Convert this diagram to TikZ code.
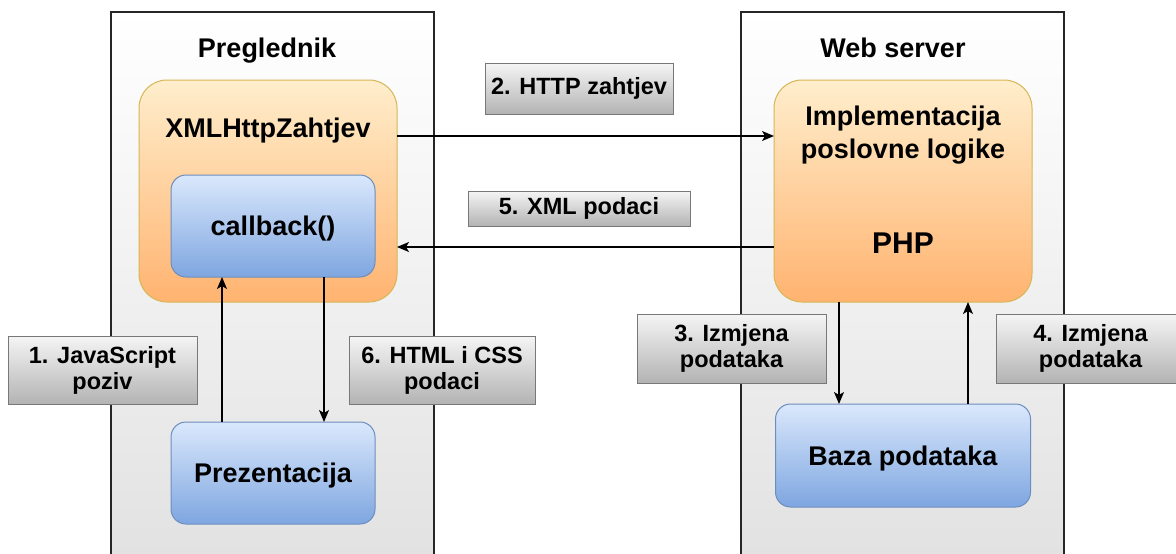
\documentclass[tikz,border=0pt]{standalone}
\usepackage{fontspec}
\setmainfont{Liberation Sans}
\usetikzlibrary{arrows.meta}
\definecolor{contbot}{RGB}{226,226,226}
\definecolor{otop}{RGB}{255,238,204}
\definecolor{obot}{RGB}{255,179,112}
\definecolor{oline}{RGB}{214,182,86}
\definecolor{btop}{RGB}{218,232,252}
\definecolor{bbot}{RGB}{126,166,224}
\definecolor{bline}{RGB}{108,142,191}
\definecolor{ltop}{RGB}{245,245,245}
\definecolor{lbot}{RGB}{179,179,179}
\definecolor{lline}{RGB}{120,120,120}
\begin{document}
\begin{tikzpicture}[x=1pt,y=-1pt,
  cont/.style={draw=black!85, line width=1.3pt, top color=white, bottom color=contbot, minimum width=323pt, minimum height=544pt, inner sep=0pt, outer sep=0pt},
  obox/.style={draw=oline, line width=1pt, rounded corners=28pt, top color=otop, bottom color=obot, inner sep=0pt, outer sep=0pt, font=\fontsize{27}{33}\selectfont\bfseries},
  bbox/.style={draw=bline, line width=1pt, rounded corners=15pt, top color=btop, bottom color=bbot, inner sep=0pt, outer sep=0pt, text depth=0pt, font=\fontsize{27}{33}\selectfont\bfseries},
  lbl/.style={draw=lline, line width=1pt, top color=ltop, bottom color=lbot, inner sep=0pt, outer sep=0pt, align=center, font=\fontsize{23.5}{26}\selectfont\bfseries},
  title/.style={font=\fontsize{27}{33}\selectfont\bfseries, inner sep=0pt, align=center},
  arr/.style={-{Stealth[length=12pt,width=10pt,inset=3pt]}, line width=1.3pt, black}
]
\useasboundingbox (0,0) rectangle (1176,554);
\clip (0,0) rectangle (1176,554);
% containers
\node[cont] (brow) at (272.5,284) {};
\node[cont] (srv) at (902.5,284) {};
\node[title, anchor=base] (tb) at (267,57) {Preglednik};
\node[title, anchor=base] (ts) at (893,57) {Web server};
% browser side
\node[obox, minimum width=258pt, minimum height=222pt] (xhr) at (268,191) {};
\node[title, anchor=base] (txhr) at (268,137) {XMLHttpZahtjev};
\node[bbox, minimum width=204pt, minimum height=102pt] (cb) at (273,226) {callback()};
\node[bbox, minimum width=204pt, minimum height=102pt] (prez) at (273,473) {Prezentacija};
% server side
\node[obox, minimum width=258pt, minimum height=222pt] (impl) at (903,191) {};
\node[title] (timpl) at (903,135.5) {Implementacija\\poslovne logike};
\node[title, font=\fontsize{30}{36}\selectfont\bfseries] (php) at (903,243.5) {PHP};
\node[bbox, minimum width=255pt, minimum height=103pt] (baza) at (903,455.5) {Baza podataka};
% labels
\node[lbl, minimum width=188pt, minimum height=51pt] (l2) at (579,88.5) {2. HTTP zahtjev};
\node[lbl, minimum width=222pt, minimum height=35pt] (l5) at (579,208.5) {5. XML podaci};
\node[lbl, minimum width=189pt, minimum height=68pt] (l1) at (102.5,370) {1. JavaScript\\poziv};
\node[lbl, minimum width=186pt, minimum height=68pt] (l6) at (442,370) {6. HTML i CSS\\podaci};
\node[lbl, minimum width=189pt, minimum height=69pt] (l3) at (731.5,348.5) {3. Izmjena\\podataka};
\node[lbl, minimum width=189pt, minimum height=69pt] (l4) at (1090.5,348.5) {4. Izmjena\\podataka};
% arrows
\draw[arr] ([yshift=55pt]xhr.east) -- ([yshift=55pt]impl.west);
\draw[arr] ([yshift=-56pt]impl.west) -- ([yshift=-56pt]xhr.east);
\draw[arr] ([xshift=-51pt]prez.north) -- ([xshift=-51pt]cb.south);
\draw[arr] ([xshift=51pt]cb.south) -- ([xshift=51pt]prez.north);
\draw[arr] ([xshift=-64pt]impl.south) -- ([xshift=-64pt]baza.north);
\draw[arr] ([xshift=65pt]baza.north) -- ([xshift=65pt]impl.south);
\end{tikzpicture}
\end{document}
